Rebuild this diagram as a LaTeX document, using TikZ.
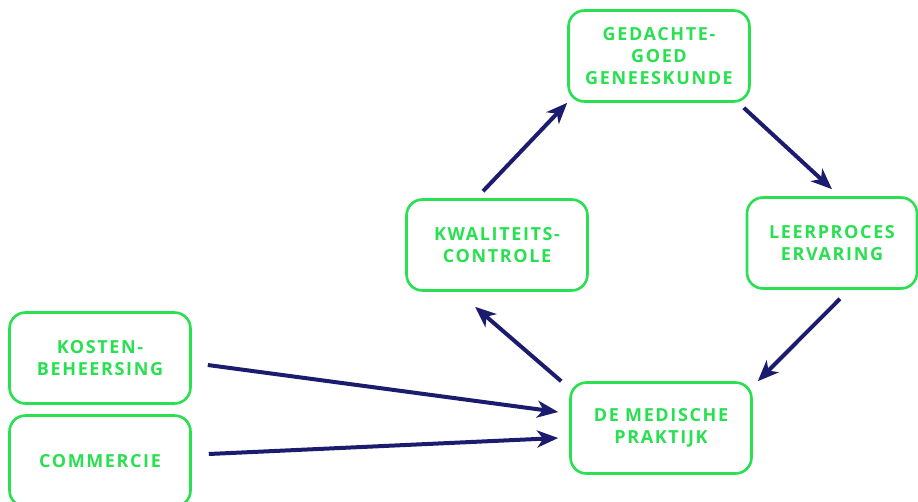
\documentclass[tikz,border=0pt]{standalone}
\usepackage{fontspec}
\setmainfont{Open Sans}[LetterSpace=9]
\usepackage{tikz}
\usetikzlibrary{arrows.meta}
\definecolor{boxgreen}{RGB}{40,224,80}
\definecolor{arrownavy}{RGB}{28,28,110}
\tikzset{
b/.style={
  rectangle,rounded corners=16pt,
  inner sep=0pt,
  minimum width=181pt,
  minimum height=91pt,
  align=center,
  line width=2.6pt,
  draw=boxgreen,
  text=boxgreen,
  font=\fontsize{18}{22}\selectfont\bfseries
  },
arr/.style={
  -{Stealth[length=21pt,width=17pt,inset=6pt]},
  line width=4pt,
  draw=arrownavy
  }
}

\begin{document}
\begin{tikzpicture}[x=1pt,y=-1pt]
            \useasboundingbox (0,0) rectangle (918,501);
            \node[b] (ged) at (659,56) {GEDACHTE-\\GOED\\GENEESKUNDE};
            \node[b] (kwal) at (497,245) {KWALITEITS-\\CONTROLE};
            \node[b,minimum width=170pt] (leer) at (832,243) {LEERPROCES\\ERVARING};
            \node[b] (med) at (661,428) {DE MEDISCHE\\PRAKTIJK};
            \node[b] (kost) at (100,358) {KOSTEN-\\BEHEERSING};
            \node[b] (comm) at (100,461) {COMMERCIE};
            \draw[arr] ([xshift=-14pt,yshift=7pt]kwal.north) -- (ged.south west);
            \draw[arr] ([xshift=-7pt,yshift=-5pt]ged.south east) -- ([yshift=7pt]leer.north);
            \draw[arr] ([xshift=8pt,yshift=-9pt]leer.south) -- ([xshift=5pt]med.north east);
            \draw[arr] ([xshift=-8pt]med.north west) -- ([xshift=-22pt,yshift=-15pt]kwal.south);
            \draw[arr] ([xshift=16pt,yshift=-7pt]kost.east) -- ([xshift=-11pt,yshift=16pt]med.west);
            \draw[arr] ([xshift=17pt,yshift=7pt]comm.east) -- ([xshift=-11pt,yshift=-10pt]med.west);
        \end{tikzpicture}
\end{document}
